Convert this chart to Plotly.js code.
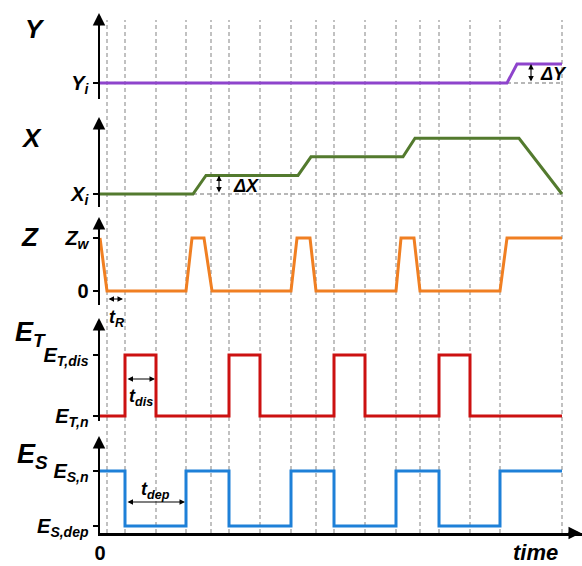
<!DOCTYPE html>
<html>
<head>
<meta charset="utf-8">
<script src="https://cdn.plot.ly/plotly-3.0.1.min.js"></script>
<style>html,body{margin:0;padding:0;background:#fff;}#chart{width:582px;height:566px;}</style>
</head>
<body>
<div id="chart"></div>
<script>
// ---- data (time in arbitrary units) ----
const gridTimes = [0.7, 2.5, 5.6, 8.6, 11.1, 12.9, 16.0, 19.1, 21.6, 23.4, 26.5, 29.6, 32.0, 33.9, 37.0, 40.0, 46.2];
const yTime = [0, 40.7, 41.7, 46.2];
const yLevel = [0, 0, 1, 1];
const xTime = [0, 9.3, 10.6, 19.8, 21.1, 30.3, 31.5, 41.9, 46.2];
const xLevel = [0, 0, 1, 1, 2, 2, 3, 3, 0];
const zTime = [0, 0.7, 8.6, 9.2, 10.4, 11.2, 19.1, 19.7, 21.0, 21.6, 29.6, 30.1, 31.4, 32.0, 40.0, 40.7, 46.2];
const zLevel = [1, 0, 0, 1, 1, 0, 0, 1, 1, 0, 0, 1, 1, 0, 0, 1, 1];
const etTime = [0, 2.5, 5.6, 12.9, 16.0, 23.4, 26.5, 33.9, 37.0, 46.2];
const etLevel = [0, 1, 0, 1, 0, 1, 0, 1, 0, 0];
const esTime = [0, 2.5, 8.6, 12.9, 19.1, 23.4, 29.6, 33.9, 40.0, 46.2];
const esLevel = [1, 0, 1, 0, 1, 0, 1, 0, 1, 1];
const yTickText = ['<b><i>Y<sub>i</sub></i></b>'];
const xTickText = ['<b><i>X<sub>i</sub></i></b>'];
const zTickText = ['<b>0</b>', '<b><i>Z<sub>w</sub></i></b>'];
const etTickText = ['<b><i>E<sub>T,n</sub></i></b>', '<b><i>E<sub>T,dis</sub></i></b>'];
const esTickText = ['<b><i>E<sub>S,dep</sub></i></b>', '<b><i>E<sub>S,n</sub></i></b>'];

// ---- layout helpers ----
const W = 582, H = 566;
const px = v => v / W;
const py = v => 1 - v / H;
const FONT = 'Liberation Sans, Arial, sans-serif';

function panelAxis(bottom, top, pa, a, pb, b, tickvals, ticktext) {
  const k = (pa - pb) / (b - a);
  return {
    domain: [py(bottom), py(top)],
    range: [a - (bottom - pa) / k, a + (pa - top) / k],
    anchor: 'x', showline: true, linewidth: 2.5, linecolor: '#000',
    showgrid: false, zeroline: false, fixedrange: true,
    ticks: 'outside', ticklen: 5, tickwidth: 2, tickcolor: '#000',
    tickvals: tickvals, ticktext: ticktext,
    tickfont: {family: FONT, size: 20, color: '#000'}
  };
}

const traces = [
  {x: yTime, y: yLevel, xaxis: 'x', yaxis: 'y', mode: 'lines', line: {color: '#8E44CC', width: 3}},
  {x: xTime, y: xLevel, xaxis: 'x', yaxis: 'y2', mode: 'lines', line: {color: '#537A2E', width: 3}},
  {x: zTime, y: zLevel, xaxis: 'x', yaxis: 'y3', mode: 'lines', line: {color: '#F07F22', width: 3}},
  {x: etTime, y: etLevel, xaxis: 'x', yaxis: 'y4', mode: 'lines', line: {color: '#CC1111', width: 3, shape: 'hv'}},
  {x: esTime, y: esLevel, xaxis: 'x', yaxis: 'y5', mode: 'lines', line: {color: '#1E80D8', width: 3, shape: 'hv'}}
];

const shapes = gridTimes.map(t => ({
  type: 'line', xref: 'x', yref: 'paper', x0: t, x1: t, y0: py(533), y1: py(20),
  line: {color: '#a0a0a0', width: 1.3, dash: '4px,3px'}, layer: 'below'
}));
shapes.push({type: 'line', xref: 'x', yref: 'y', x0: yTime[1], x1: yTime[3], y0: 0, y1: 0,
  line: {color: '#a0a0a0', width: 1.5, dash: '4px,3px'}, layer: 'below'});
shapes.push({type: 'line', xref: 'x', yref: 'y2', x0: xTime[1], x1: xTime[8], y0: 0, y1: 0,
  line: {color: '#a0a0a0', width: 1.5, dash: '4px,3px'}, layer: 'below'});

const ann = [];
function label(x, y, text, size) {
  ann.push({xref: 'paper', yref: 'paper', x: px(x), y: py(y), text: text, showarrow: false,
    xanchor: 'center', yanchor: 'middle', font: {family: FONT, size: size, color: '#000'}});
}
function axisArrow(tip) {
  ann.push({xref: 'paper', yref: 'paper', x: px(99), y: py(tip), ax: 0, ay: 14, text: '',
    showarrow: true, arrowhead: 2, arrowsize: 1, arrowwidth: 2.5, arrowcolor: '#000'});
}
function dblArrow(xref, yref, x0, y0, x1, y1) {
  ann.push({xref: xref, yref: yref, axref: xref, ayref: yref, x: x1, y: y1, ax: x0, ay: y0, text: '',
    showarrow: true, arrowside: 'end+start', arrowhead: 2, startarrowhead: 2,
    arrowsize: 1, startarrowsize: 1, arrowwidth: 1.1, arrowcolor: '#000'});
}
label(35, 29, '<b><i>Y</i></b>', 26);
label(31, 138, '<b><i>X</i></b>', 26);
label(30, 237, '<b><i>Z</i></b>', 26);
label(30, 334, '<b><i>E<sub>T</sub></i></b>', 27);
label(32, 456, '<b><i>E<sub>S</sub></i></b>', 27);
label(535, 552, '<b><i>time</i></b>', 22);
[13, 117, 217, 318, 436].forEach(axisArrow);
// time axis arrow
ann.push({xref: 'paper', yref: 'paper', x: px(581), y: py(533), ax: -14, ay: 0, text: '',
  showarrow: true, arrowhead: 2, arrowsize: 1, arrowwidth: 2.5, arrowcolor: '#000'});
// delta annotations
dblArrow('x', 'y', 43.1, 0, 43.1, 1);
ann.push({xref: 'x', yref: 'y', x: 43.8, y: 0.45, text: '<b><i>ΔY</i></b>', showarrow: false,
  xanchor: 'left', font: {family: FONT, size: 18, color: '#000'}});
dblArrow('x', 'y2', 11.9, 0, 11.9, 1);
ann.push({xref: 'x', yref: 'y2', x: 13.1, y: 0.45, text: '<b><i>ΔX</i></b>', showarrow: false,
  xanchor: 'left', font: {family: FONT, size: 18, color: '#000'}});
// durations
dblArrow('x', 'paper', gridTimes[0], py(299), gridTimes[1] - 0.2, py(299));
label(117, 318, '<b><i>t<sub>R</sub></i></b>', 18);
dblArrow('x', 'paper', etTime[1] + 0.1, py(379), etTime[2] - 0.1, py(379));
label(141, 397, '<b><i>t<sub>dis</sub></i></b>', 18);
dblArrow('x', 'paper', esTime[1] + 0.1, py(502), esTime[2] - 0.1, py(502));
label(155, 491, '<b><i>t<sub>dep</sub></i></b>', 18);

const layout = {
  width: W, height: H, margin: {l: 0, r: 0, t: 0, b: 0},
  paper_bgcolor: '#fff', plot_bgcolor: 'rgba(0,0,0,0)', showlegend: false,
  font: {family: FONT, color: '#000'},
  xaxis: {domain: [px(100), 1], range: [0, 48.2], anchor: 'y5', showline: true, linewidth: 2.5,
    linecolor: '#000', showgrid: false, zeroline: false, fixedrange: true,
    tickvals: [0], ticktext: ['<b>0</b>'], ticks: '', tickfont: {family: FONT, size: 20, color: '#000'}},
  yaxis: panelAxis(99, 17, 83, 0, 64, 1, [0], yTickText),
  yaxis2: panelAxis(207, 121, 194, 0, 138.3, 3, [0], xTickText),
  yaxis3: panelAxis(305, 221, 291, 0, 238, 1, [0, 1], zTickText),
  yaxis4: panelAxis(421, 322, 416, 0, 355, 1, [0, 1], etTickText),
  yaxis5: panelAxis(533, 440, 526, 0, 471, 1, [0, 1], esTickText),
  shapes: shapes, annotations: ann
};
Plotly.newPlot('chart', traces, layout, {displayModeBar: false, staticPlot: true});
</script>
</body>
</html>
